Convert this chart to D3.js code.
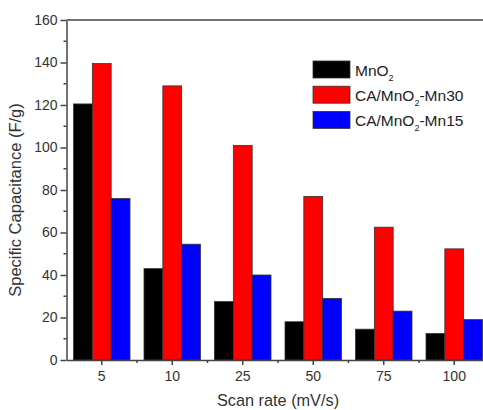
<!DOCTYPE html>
<html><head><meta charset="utf-8">
<script src="https://cdn.jsdelivr.net/npm/d3@7"></script>
<style>body{margin:0;background:#fff;}svg{display:block;font-family:"Liberation Sans",Arial,sans-serif;}</style>
</head><body>
<svg id="c" width="483" height="410"></svg>
<script>
const categories = ["5","10","25","50","75","100"];
const seriesNames = ["MnO2","CA/MnO2-Mn30","CA/MnO2-Mn15"];
const mno2 = [120.5, 43, 27.5, 18, 14.5, 12.5];
const mn30 = [139.5, 129, 101, 77, 62.5, 52.3];
const mn15 = [76, 54.5, 40, 29, 23, 19];
const colors = ["#000000","#ff0000","#0000ff"];
const yTicks = [0,20,40,60,80,100,120,140,160];
const series = [mno2, mn30, mn15];

(function(){
const svg = d3.select("#c");
const pl = 66.5, pr = 489.5, pt = 20, pb = 360;
const x0 = d3.scaleBand().domain(categories).range([pl, pr]).paddingInner(0).paddingOuter(0);
const bw = x0.bandwidth();
const x1 = d3.scaleBand().domain(d3.range(series.length)).range([7, bw - 7]).padding(0);
const y = d3.scaleLinear().domain([0,160]).range([pb, pt]);

// bars
categories.forEach((c, i) => {
  series.forEach((s, j) => {
    svg.append("rect")
      .attr("x", x0(c) + x1(j))
      .attr("y", y(s[i]))
      .attr("width", x1.bandwidth())
      .attr("height", y(0) - y(s[i]))
      .attr("fill", colors[j])
      .attr("stroke", "#333")
      .attr("stroke-width", 0.8);
  });
});

// top frame line
svg.append("line").attr("x1", pl).attr("x2", 483).attr("y1", pt).attr("y2", pt)
  .attr("stroke", "#444").attr("stroke-width", 1.5);

// y axis
const yAxis = d3.axisLeft(y).tickValues(yTicks).tickSize(6).tickPadding(3).tickSizeOuter(0);
const gy = svg.append("g").attr("transform", `translate(${pl},0)`).call(yAxis);
gy.select(".domain").attr("stroke", "#444").attr("stroke-width", 1.5);
gy.selectAll(".tick line").attr("stroke", "#444").attr("stroke-width", 1.5);
gy.selectAll(".tick text").attr("font-size", 14).attr("fill", "#333").attr("font-family", "Liberation Sans, Arial, sans-serif");
// minor y ticks
const minorY = d3.range(10, 160, 20);
svg.append("g").selectAll("line").data(minorY).join("line")
  .attr("x1", pl - 3).attr("x2", pl).attr("y1", d => y(d)).attr("y2", d => y(d))
  .attr("stroke", "#444").attr("stroke-width", 1.5);

// x axis
const xAxis = d3.axisBottom(x0).tickSize(5).tickPadding(6).tickSizeOuter(0);
const gx = svg.append("g").attr("transform", `translate(0,${pb})`).call(xAxis);
gx.select(".domain").attr("stroke", "#444").attr("stroke-width", 1.5);
gx.selectAll(".tick line").attr("stroke", "#444").attr("stroke-width", 1.5);
gx.selectAll(".tick text").attr("font-size", 14).attr("fill", "#333").attr("font-family", "Liberation Sans, Arial, sans-serif");
// minor x ticks at band boundaries
svg.append("g").selectAll("line").data(categories.slice(1)).join("line")
  .attr("x1", d => x0(d)).attr("x2", d => x0(d)).attr("y1", pb).attr("y2", pb + 3)
  .attr("stroke", "#444").attr("stroke-width", 1.5);

// axis titles
svg.append("text").attr("x", 278).attr("y", 406)
  .attr("text-anchor", "middle").attr("font-size", 16.3).attr("fill", "#333")
  .text("Scan rate (mV/s)");
svg.append("text").attr("transform", "translate(21,200) rotate(-90)")
  .attr("text-anchor", "middle").attr("font-size", 16.5).attr("fill", "#333")
  .text("Specific Capacitance (F/g)");

// legend
const legendParts = [["MnO", "2", ""], ["CA/MnO", "2", "-Mn30"], ["CA/MnO", "2", "-Mn15"]];
seriesNames.forEach((n, j) => {
  const yy = 61 + j * 25.2;
  svg.append("rect").attr("x", 313).attr("y", yy).attr("width", 37).attr("height", 17)
    .attr("fill", colors[j]).attr("stroke", "#333").attr("stroke-width", 0.8);
  const t = svg.append("text").attr("x", 355).attr("y", yy + 15).attr("font-size", 15.5).attr("fill", "#222");
  const p = legendParts[j];
  t.append("tspan").text(p[0]);
  t.append("tspan").attr("font-size", 9).attr("dy", 5).text(p[1]);
  if (p[2]) t.append("tspan").attr("dy", -5).text(p[2]);
});
})();
</script>
</body></html>
